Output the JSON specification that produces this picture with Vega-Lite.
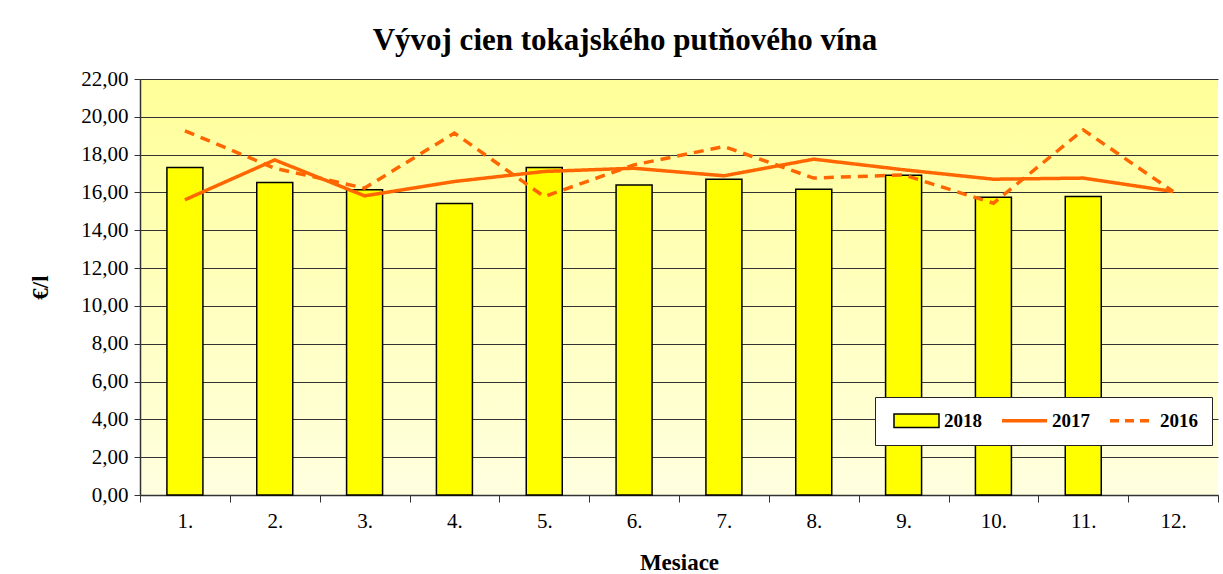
{
  "$schema": "https://vega.github.io/schema/vega-lite/v6.json",
  "autosize": "none",
  "width": 1078,
  "height": 416,
  "padding": {"left": 140, "top": 79, "right": 5, "bottom": 79},
  "background": "white",
  "title": {
    "text": "Vývoj cien tokajského putňového vína",
    "font": "Liberation Serif",
    "fontSize": 31,
    "fontWeight": "bold",
    "color": "black",
    "anchor": "middle",
    "dx": -54,
    "offset": 11
  },
  "config": {
    "view": {
      "stroke": null,
      "fill": {"gradient": "linear", "x1": 0, "y1": 0, "x2": 0, "y2": 1, "stops": [{"offset": 0, "color": "#FFFF99"}, {"offset": 1, "color": "#FFFFE0"}]}
    },
    "font": "Liberation Serif"
  },
  "data": {
    "values": [
      {"month": "1.", "year": "2018", "price": 17.32},
      {"month": "2.", "year": "2018", "price": 16.52},
      {"month": "3.", "year": "2018", "price": 16.14},
      {"month": "4.", "year": "2018", "price": 15.41},
      {"month": "5.", "year": "2018", "price": 17.32},
      {"month": "6.", "year": "2018", "price": 16.40},
      {"month": "7.", "year": "2018", "price": 16.70},
      {"month": "8.", "year": "2018", "price": 16.17},
      {"month": "9.", "year": "2018", "price": 16.91},
      {"month": "10.", "year": "2018", "price": 15.75},
      {"month": "11.", "year": "2018", "price": 15.78},
      {"month": "1.", "year": "2017", "price": 15.61},
      {"month": "2.", "year": "2017", "price": 17.72},
      {"month": "3.", "year": "2017", "price": 15.82},
      {"month": "4.", "year": "2017", "price": 16.58},
      {"month": "5.", "year": "2017", "price": 17.11},
      {"month": "6.", "year": "2017", "price": 17.28},
      {"month": "7.", "year": "2017", "price": 16.88},
      {"month": "8.", "year": "2017", "price": 17.76},
      {"month": "9.", "year": "2017", "price": 17.20},
      {"month": "10.", "year": "2017", "price": 16.70},
      {"month": "11.", "year": "2017", "price": 16.76},
      {"month": "12.", "year": "2017", "price": 16.05},
      {"month": "1.", "year": "2016", "price": 19.26},
      {"month": "2.", "year": "2016", "price": 17.28},
      {"month": "3.", "year": "2016", "price": 16.23},
      {"month": "4.", "year": "2016", "price": 19.14},
      {"month": "5.", "year": "2016", "price": 15.78},
      {"month": "6.", "year": "2016", "price": 17.46},
      {"month": "7.", "year": "2016", "price": 18.43},
      {"month": "8.", "year": "2016", "price": 16.76},
      {"month": "9.", "year": "2016", "price": 16.93},
      {"month": "10.", "year": "2016", "price": 15.43},
      {"month": "11.", "year": "2016", "price": 19.31},
      {"month": "12.", "year": "2016", "price": 16.05}
    ]
  },
  "encoding": {
    "x": {
      "field": "month",
      "type": "nominal",
      "sort": ["1.", "2.", "3.", "4.", "5.", "6.", "7.", "8.", "9.", "10.", "11.", "12."],
      "scale": {"domain": ["1.", "2.", "3.", "4.", "5.", "6.", "7.", "8.", "9.", "10.", "11.", "12."], "paddingInner": 0, "paddingOuter": 0},
      "axis": {
        "title": "Mesiace",
        "titleFont": "Liberation Serif",
        "titleFontSize": 23,
        "titleFontWeight": "bold",
        "titleColor": "black",
        "titlePadding": 20,
        "labelFont": "Liberation Serif",
        "labelFontSize": 21,
        "labelColor": "black",
        "labelAngle": 0,
        "labelPadding": 8,
        "tickBand": "extent",
        "tickSize": 7,
        "tickColor": "#333",
        "domainColor": "#333",
        "domainWidth": 1.5,
        "grid": false
      }
    },
    "y": {
      "field": "price",
      "type": "quantitative",
      "scale": {"domain": [0, 22], "nice": false},
      "axis": {
        "title": "€/l",
        "titleFont": "Liberation Serif",
        "titleFontSize": 23,
        "titleFontWeight": "bold",
        "titleColor": "black",
        "titlePadding": 28,
        "values": [0, 2, 4, 6, 8, 10, 12, 14, 16, 18, 20, 22],
        "labelExpr": "replace(format(datum.value, '.2f'), '.', ',')",
        "labelFont": "Liberation Serif",
        "labelFontSize": 21,
        "labelColor": "black",
        "labelPadding": 6,
        "tickSize": 6,
        "tickColor": "#333",
        "domainColor": "#333",
        "domainWidth": 1.5,
        "grid": true,
        "gridColor": "#333",
        "gridWidth": 1
      }
    },
    "color": {
      "field": "year",
      "type": "nominal",
      "scale": {"domain": ["2018", "2017", "2016"], "range": ["black", "#FF6600", "#FF6600"]},
      "legend": {
        "orient": "none",
        "direction": "horizontal",
        "legendX": 735,
        "legendY": 318,
        "title": null,
        "fillColor": "white",
        "strokeColor": "#222",
        "padding": 14,
        "labelFont": "Liberation Serif",
        "labelFontSize": 19,
        "labelFontWeight": "bold",
        "labelColor": "black",
        "labelOffset": 18,
        "columnPadding": 13,
        "symbolSize": 2025,
        "symbolOffset": 18,
        "symbolType": "stroke",
        "symbolStrokeWidth": 3.5,
        "symbolFillColor": "#FFFF00",
        "encode": {
          "symbols": {
            "update": {
              "shape": {"signal": "datum.value == '2018' ? 'M-1,-0.3H1V0.3H-1Z' : 'stroke'"},
              "fill": {"signal": "datum.value == '2018' ? '#FFFF00' : 'transparent'"},
              "stroke": {"signal": "datum.value == '2018' ? 'black' : '#FF6600'"},
              "strokeWidth": {"signal": "datum.value == '2018' ? 1.5 : 3.5"},
              "strokeDash": {"signal": "datum.value == '2016' ? [9, 6] : []"}
            }
          }
        }
      }
    }
  },
  "layer": [
    {
      "transform": [{"filter": "datum.year == '2018'"}],
      "mark": {"type": "bar", "size": 36, "stroke": "black", "strokeWidth": 1.5},
      "encoding": {
        "fill": {"value": "#FFFF00"}
      }
    },
    {
      "transform": [{"filter": "datum.year != '2018'"}],
      "mark": {"type": "line", "strokeWidth": 3.5},
      "encoding": {
        "strokeDash": {
          "field": "year",
          "type": "nominal",
          "scale": {"domain": ["2017", "2016"], "range": [[1, 0], [10, 7]]},
          "legend": null
        }
      }
    }
  ]
}
